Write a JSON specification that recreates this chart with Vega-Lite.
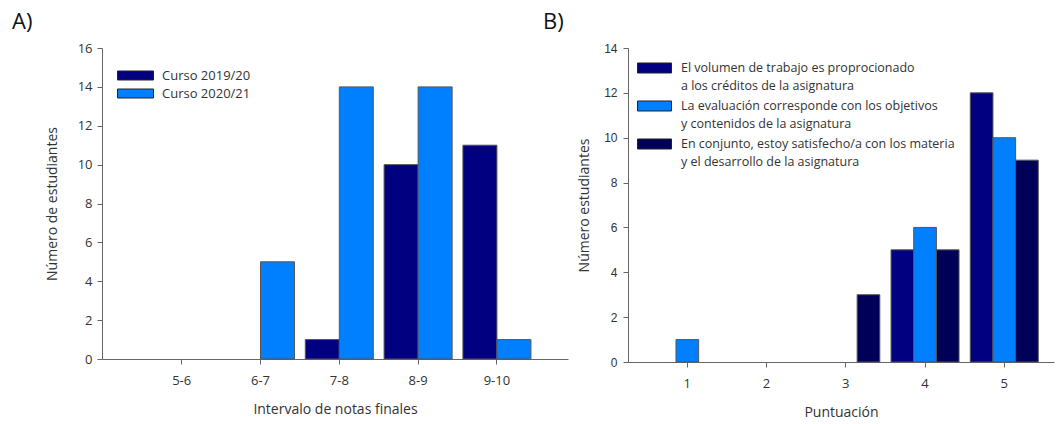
{
  "$schema": "https://vega.github.io/schema/vega-lite/v6.json",
  "background": "white",
  "padding": {"left": 12, "top": 11, "right": 2, "bottom": 0},
  "spacing": 60,
  "bounds": "flush",
  "resolve": {
    "scale": {"x": "independent", "xOffset": "independent", "y": "independent", "color": "independent"},
    "legend": {"color": "independent"},
    "axis": {"x": "independent", "y": "independent"}
  },
  "config": {
    "view": {"stroke": null},
    "font": "Open Sans",
    "axis": {
      "domainColor": "#666666",
      "tickColor": "#666666",
      "tickSize": 5,
      "labelColor": "#333333",
      "titleColor": "#333333",
      "labelFontSize": 13,
      "titleFontSize": 14,
      "titleFontWeight": "normal",
      "grid": false
    },
    "title": {"fontSize": 22, "fontWeight": "normal", "color": "#111111", "anchor": "start", "frame": "group", "offset": 8}
  },
  "hconcat": [
    {
      "title": {"text": "A)", "dx": -90},
      "width": 466,
      "height": 311,
      "data": {
        "values": [
          {"intervalo": "5-6", "curso": "Curso 2019/20", "n": 0},
          {"intervalo": "5-6", "curso": "Curso 2020/21", "n": 0},
          {"intervalo": "6-7", "curso": "Curso 2019/20", "n": 0},
          {"intervalo": "6-7", "curso": "Curso 2020/21", "n": 5},
          {"intervalo": "7-8", "curso": "Curso 2019/20", "n": 1},
          {"intervalo": "7-8", "curso": "Curso 2020/21", "n": 14},
          {"intervalo": "8-9", "curso": "Curso 2019/20", "n": 10},
          {"intervalo": "8-9", "curso": "Curso 2020/21", "n": 14},
          {"intervalo": "9-10", "curso": "Curso 2019/20", "n": 11},
          {"intervalo": "9-10", "curso": "Curso 2020/21", "n": 1}
        ]
      },
      "mark": {"type": "bar", "stroke": "#555555", "strokeWidth": 1},
      "encoding": {
        "x": {
          "field": "intervalo",
          "type": "nominal",
          "sort": ["5-6", "6-7", "7-8", "8-9", "9-10"],
          "scale": {"paddingInner": 0.137, "paddingOuter": 0.525, "align": 0.552},
          "axis": {"title": "Intervalo de notas finales", "labelAngle": 0, "labelPadding": 10, "titlePadding": 15}
        },
        "xOffset": {"field": "curso", "type": "nominal", "sort": ["Curso 2019/20", "Curso 2020/21"]},
        "y": {
          "field": "n",
          "type": "quantitative",
          "scale": {"domain": [0, 16], "nice": false},
          "axis": {"title": "Número de estudiantes", "values": [0, 2, 4, 6, 8, 10, 12, 14, 16], "labelPadding": 5, "titlePadding": 18}
        },
        "strokeOpacity": {"condition": {"test": "datum.n == 0", "value": 0}, "value": 1},
        "color": {
          "field": "curso",
          "type": "nominal",
          "scale": {"domain": ["Curso 2019/20", "Curso 2020/21"], "range": ["#000080", "#0080FF"]},
          "legend": {
            "title": null,
            "orient": "none",
            "legendX": 15,
            "legendY": 18,
            "padding": 0,
            "symbolType": "M-1,-0.5H3V0.5H-1Z",
            "symbolSize": 324,
            "symbolStrokeColor": "#222222",
            "symbolStrokeWidth": 1,
            "symbolOpacity": 1,
            "labelOffset": 26,
            "labelFontSize": 13,
            "labelColor": "#333333",
            "labelFont": "Open Sans",
            "rowPadding": 1
          }
        }
      }
    },
    {
      "title": {"text": "B)", "dx": -85},
      "width": 426,
      "height": 314,
      "data": {
        "values": [
          {"puntuacion": "1", "item": "A", "n": 0},
          {"puntuacion": "1", "item": "B", "n": 1},
          {"puntuacion": "1", "item": "C", "n": 0},
          {"puntuacion": "2", "item": "A", "n": 0},
          {"puntuacion": "2", "item": "B", "n": 0},
          {"puntuacion": "2", "item": "C", "n": 0},
          {"puntuacion": "3", "item": "A", "n": 0},
          {"puntuacion": "3", "item": "B", "n": 0},
          {"puntuacion": "3", "item": "C", "n": 3},
          {"puntuacion": "4", "item": "A", "n": 5},
          {"puntuacion": "4", "item": "B", "n": 6},
          {"puntuacion": "4", "item": "C", "n": 5},
          {"puntuacion": "5", "item": "A", "n": 12},
          {"puntuacion": "5", "item": "B", "n": 10},
          {"puntuacion": "5", "item": "C", "n": 9}
        ]
      },
      "mark": {"type": "bar", "stroke": "#555555", "strokeWidth": 1},
      "encoding": {
        "x": {
          "field": "puntuacion",
          "type": "nominal",
          "sort": ["1", "2", "3", "4", "5"],
          "scale": {"paddingInner": 0.142, "paddingOuter": 0.259, "align": 0.617},
          "axis": {"title": "Puntuación", "labelAngle": 0, "labelPadding": 10, "titlePadding": 15}
        },
        "xOffset": {"field": "item", "type": "nominal", "sort": ["A", "B", "C"]},
        "y": {
          "field": "n",
          "type": "quantitative",
          "scale": {"domain": [0, 14], "nice": false},
          "axis": {"title": "Número estudiantes", "values": [0, 2, 4, 6, 8, 10, 12, 14], "labelPadding": 6, "titlePadding": 12, "labelFont": "Liberation Sans", "labelFontSize": 12}
        },
        "strokeOpacity": {"condition": {"test": "datum.n == 0", "value": 0}, "value": 1},
        "color": {
          "field": "item",
          "type": "nominal",
          "scale": {"domain": ["A", "B", "C"], "range": ["#000080", "#0080FF", "#000058"]},
          "legend": {
            "title": null,
            "orient": "none",
            "legendX": 9,
            "legendY": 11,
            "padding": 0,
            "symbolType": "M-1,-0.59H3V0.59H-1Z",
            "symbolSize": 289,
            "symbolStrokeColor": "#222222",
            "symbolStrokeWidth": 1,
            "symbolOpacity": 1,
            "labelOffset": 26,
            "labelFontSize": 12.5,
            "labelColor": "#333333",
            "labelFont": "Open Sans",
            "labelLimit": 400,
            "labelBaseline": "alphabetic",
            "labelExpr": "datum.label == 'A' ? ['El volumen de trabajo es proprocionado', 'a los créditos de la asignatura'] : datum.label == 'B' ? ['La evaluación corresponde con los objetivos', 'y contenidos de la asignatura'] : ['En conjunto, estoy satisfecho/a con los materia', 'y el desarrollo de la asignatura']",
            "rowPadding": 4,
            "encode": {"labels": {"update": {"lineHeight": {"value": 18}, "dy": {"value": 4}}}}
          }
        }
      }
    }
  ]
}
